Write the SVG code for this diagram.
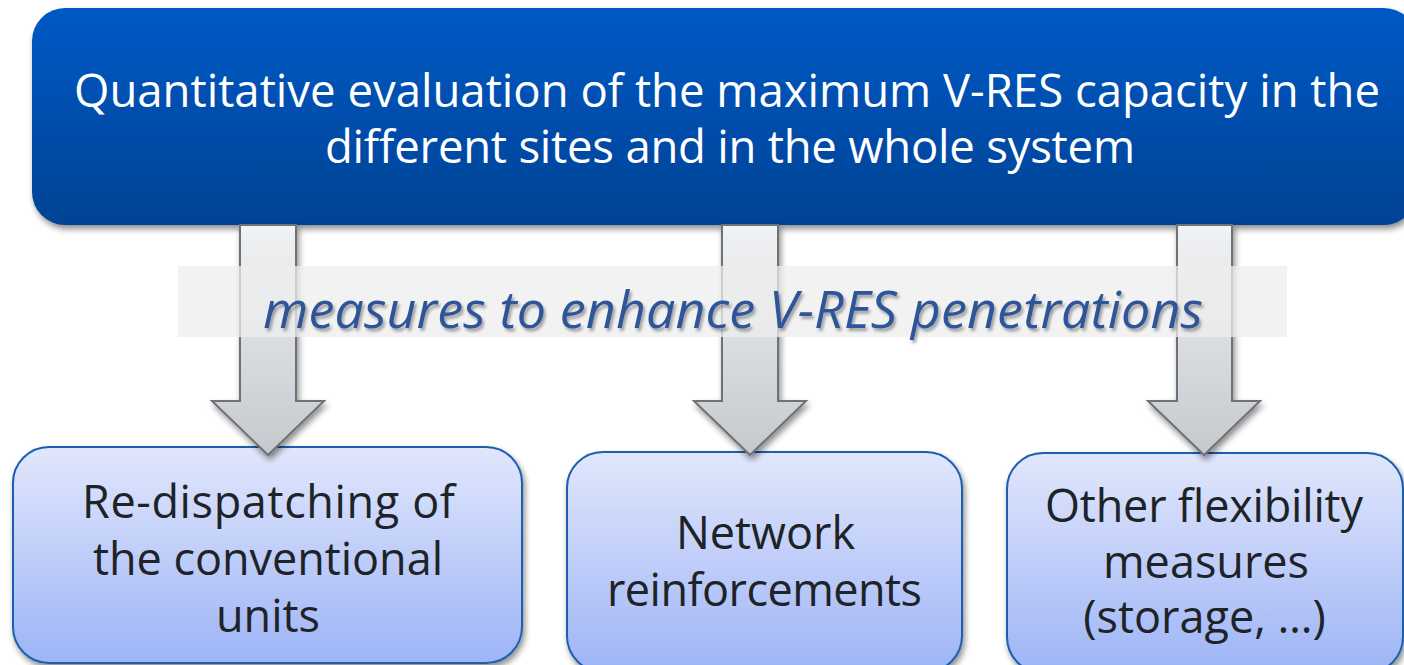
<svg xmlns="http://www.w3.org/2000/svg" width="1404" height="665" viewBox="0 0 1404 665">
<defs>
<linearGradient id="gTop" x1="0" y1="0" x2="0" y2="1">
<stop offset="0" stop-color="#0059c6"/>
<stop offset="1" stop-color="#004394"/>
</linearGradient>
<linearGradient id="gBox" x1="0" y1="0" x2="0" y2="1">
<stop offset="0" stop-color="#e1e7fc"/>
<stop offset="1" stop-color="#9db4f6"/>
</linearGradient>
<linearGradient id="gArrow" x1="0" y1="0" x2="0" y2="1">
<stop offset="0" stop-color="#f1f2f4"/>
<stop offset="1" stop-color="#c5c9cd"/>
</linearGradient>
<filter id="shadow" x="-10%" y="-10%" width="120%" height="130%">
<feGaussianBlur in="SourceAlpha" stdDeviation="3"/>
<feOffset dx="2" dy="4" result="b"/>
<feComponentTransfer><feFuncA type="linear" slope="0.45"/></feComponentTransfer>
<feMerge><feMergeNode/><feMergeNode in="SourceGraphic"/></feMerge>
</filter>
<filter id="tshadow" x="-5%" y="-20%" width="110%" height="150%">
<feGaussianBlur in="SourceAlpha" stdDeviation="1.5"/>
<feOffset dx="2" dy="3"/>
<feComponentTransfer><feFuncA type="linear" slope="0.35"/></feComponentTransfer>
<feMerge><feMergeNode/><feMergeNode in="SourceGraphic"/></feMerge>
</filter>
</defs>
<style>
.t{font-family:"Open Sans","Noto Sans","Liberation Sans",sans-serif;text-anchor:middle}
.top{fill:#ffffff;font-size:45.5px}
.bx{fill:#1e2328;font-size:45px}
.mid{fill:#2e5597;font-size:52px;font-style:italic}
.arrow{fill:url(#gArrow);stroke:#6d7276;stroke-width:2}
.box{fill:url(#gBox);stroke:#1d5fae;stroke-width:2}
</style>
<rect width="1404" height="665" fill="#ffffff"/>

<g id="top-node">
<rect x="32" y="8" width="1385" height="217" rx="33" fill="url(#gTop)" filter="url(#shadow)"/>
<text class="t top" x="727" y="107" textLength="1306" lengthAdjust="spacing">Quantitative evaluation of the maximum V-RES capacity in the</text>
<text class="t top" x="730" y="163" textLength="810" lengthAdjust="spacing">different sites and in the whole system</text>
</g>

<g id="node1">
<rect class="box" x="13" y="447" width="509" height="216" rx="36" filter="url(#shadow)"/>
<text class="t bx" x="268.5" y="518" textLength="373" lengthAdjust="spacing">Re-dispatching of</text>
<text class="t bx" x="268" y="575" textLength="350" lengthAdjust="spacing">the conventional</text>
<text class="t bx" x="268" y="632">units</text>
</g>
<g id="node2">
<rect class="box" x="567" y="452" width="395" height="220" rx="36" filter="url(#shadow)"/>
<text class="t bx" x="765.5" y="549">Network</text>
<text class="t bx" x="764.5" y="606" textLength="315" lengthAdjust="spacing">reinforcements</text>
</g>
<g id="node3">
<rect class="box" x="1007" y="453" width="396" height="220" rx="36" filter="url(#shadow)"/>
<text class="t bx" x="1204" y="522" textLength="318" lengthAdjust="spacing">Other flexibility</text>
<text class="t bx" x="1206" y="578">measures</text>
<text class="t bx" x="1204.5" y="633">(storage, …)</text>
</g>

<g id="connectors" filter="url(#shadow)">
<path class="arrow" d="M240,225 H296 V401 H324 L268,455 L212,401 H240 Z"/>
<path class="arrow" d="M722,225 H778 V401 H806 L750,455 L694,401 H722 Z"/>
<path class="arrow" d="M1177,225 H1232 V401 H1260 L1204,455 L1148,401 H1177 Z"/>
</g>

<g id="label">
<rect x="178" y="266" width="1109" height="71" fill="#eeeeee" fill-opacity="0.75"/>
<text class="t mid" x="733" y="328" filter="url(#tshadow)" textLength="940" lengthAdjust="spacing">measures to enhance V-RES penetrations</text>
</g>
</svg>
